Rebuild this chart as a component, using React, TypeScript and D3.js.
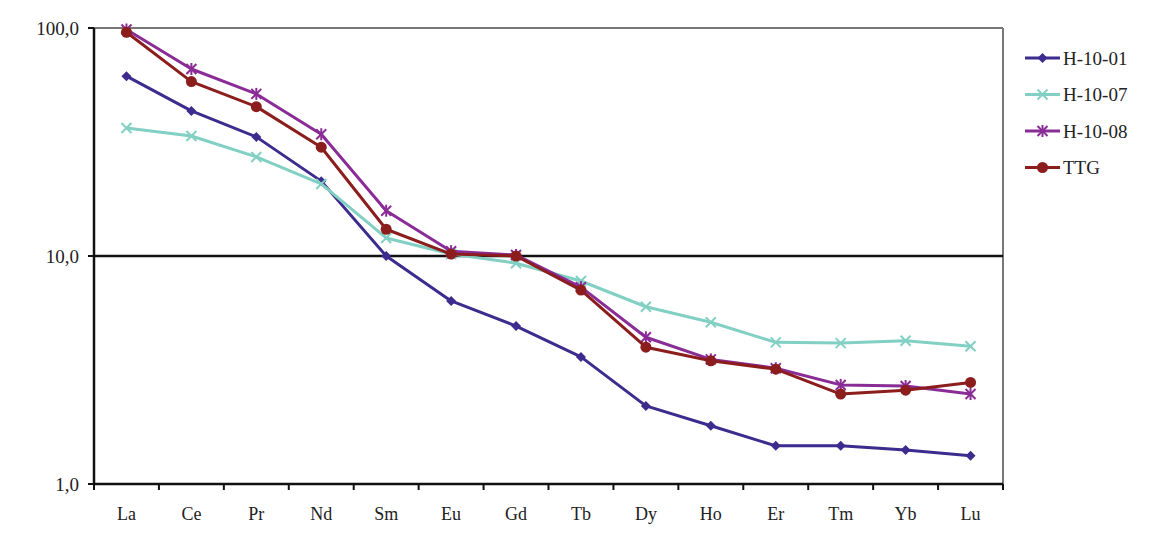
import React from 'react';
import * as d3 from 'd3';

// REE elements (chondrite-normalised pattern)
const elements = ['La', 'Ce', 'Pr', 'Nd', 'Sm', 'Eu', 'Gd', 'Tb', 'Dy', 'Ho', 'Er', 'Tm', 'Yb', 'Lu'];

const h1001 = [61.5, 43.3, 33.3, 21.3, 10.0, 6.35, 4.93, 3.61, 2.2, 1.8, 1.47, 1.47, 1.41, 1.33];
const h1007 = [36.4, 33.6, 27.2, 20.7, 12.0, 10.2, 9.3, 7.77, 5.99, 5.12, 4.18, 4.15, 4.25, 4.02];
const h1008 = [98.5, 66.1, 51.4, 34.2, 15.8, 10.5, 10.1, 7.3, 4.4, 3.52, 3.22, 2.72, 2.69, 2.48];
const ttg = [95.8, 58.2, 45.2, 30.0, 13.1, 10.2, 10.0, 7.09, 3.98, 3.47, 3.19, 2.48, 2.58, 2.79];

const yTicks = [1, 10, 100];

type Marker = 'diamond' | 'cross' | 'star' | 'circle';

const series: { name: string; values: number[]; color: string; marker: Marker }[] = [
  { name: 'H-10-01', values: h1001, color: '#3d2b8e', marker: 'diamond' },
  { name: 'H-10-07', values: h1007, color: '#82d0c3', marker: 'cross' },
  { name: 'H-10-08', values: h1008, color: '#8a2c96', marker: 'star' },
  { name: 'TTG', values: ttg, color: '#8c1d1d', marker: 'circle' },
];

const W = 1153;
const H = 534;
const margin = { left: 94, right: 150, top: 28, bottom: 50 };
const FONT = '"Liberation Serif", "Times New Roman", serif';

function MarkerShape({ type, x, y, color }: { type: Marker; x: number; y: number; color: string }) {
  if (type === 'diamond') {
    const r = 5;
    return <path d={`M${x},${y - r}L${x + r},${y}L${x},${y + r}L${x - r},${y}Z`} fill={color} />;
  }
  if (type === 'circle') {
    return <circle cx={x} cy={y} r={5.5} fill={color} />;
  }
  const r = 5;
  return (
    <g stroke={color} strokeWidth={2}>
      <line x1={x - r} y1={y - r} x2={x + r} y2={y + r} />
      <line x1={x - r} y1={y + r} x2={x + r} y2={y - r} />
      {type === 'star' && <line x1={x} y1={y - r - 1} x2={x} y2={y + r + 1} />}
    </g>
  );
}

export default function App() {
  const x0 = margin.left;
  const x1 = W - margin.right;
  const y0 = margin.top;
  const y1 = H - margin.bottom;

  const x = d3.scaleBand<string>().domain(elements).range([x0, x1]);
  const y = d3.scaleLog().domain([1, 100]).range([y1, y0]);
  const cx = (e: string) => (x(e) || 0) + x.bandwidth() / 2;

  const line = d3
    .line<number>()
    .x((_, i) => cx(elements[i]))
    .y(d => y(d));

  return (
    <svg
      width={W}
      height={H}
      style={{ position: 'absolute', left: 0, top: 0, background: '#fff' }}
      fontFamily={FONT}
    >
      {/* frame */}
      <line x1={x0} y1={y0} x2={x1} y2={y0} stroke="#777" strokeWidth={2} />
      <line x1={x1} y1={y0} x2={x1} y2={y1} stroke="#777" strokeWidth={2} />
      <line x1={x0} y1={y(10)} x2={x1} y2={y(10)} stroke="#111" strokeWidth={2.5} />

      {/* y axis */}
      <line x1={x0} y1={y0} x2={x0} y2={y1} stroke="#111" strokeWidth={2.5} />
      {yTicks.map(t => (
        <g key={t}>
          <line x1={x0 - 6} y1={y(t)} x2={x0} y2={y(t)} stroke="#111" strokeWidth={2} />
          <text x={x0 - 15} y={y(t)} dy="0.35em" textAnchor="end" fontSize={19} fill="#222">
            {t.toFixed(1).replace('.', ',')}
          </text>
        </g>
      ))}

      {/* x axis */}
      <line x1={x0} y1={y1} x2={x1} y2={y1} stroke="#111" strokeWidth={2.5} />
      {elements.map(e => (
        <line key={e} x1={x(e)} y1={y1} x2={x(e)} y2={y1 + 6} stroke="#111" strokeWidth={2} />
      ))}
      <line x1={x1} y1={y1} x2={x1} y2={y1 + 6} stroke="#111" strokeWidth={2} />
      {elements.map(e => (
        <text key={e} x={cx(e)} y={y1 + 36} textAnchor="middle" fontSize={18} fill="#222">
          {e}
        </text>
      ))}

      {/* series */}
      {series.map(s => (
        <g key={s.name}>
          <path d={line(s.values) || ''} fill="none" stroke={s.color} strokeWidth={3} strokeLinejoin="round" />
          {s.values.map((v, i) => (
            <MarkerShape key={i} type={s.marker} x={cx(elements[i])} y={y(v)} color={s.color} />
          ))}
        </g>
      ))}

      {/* legend */}
      {series.map((s, i) => {
        const ly = 58 + i * 36.5;
        return (
          <g key={s.name}>
            <line x1={1025} y1={ly} x2={1060} y2={ly} stroke={s.color} strokeWidth={3} />
            <MarkerShape type={s.marker} x={1042.5} y={ly} color={s.color} />
            <text x={1063} y={ly} dy="0.35em" fontSize={19} fill="#222">
              {s.name}
            </text>
          </g>
        );
      })}
    </svg>
  );
}
